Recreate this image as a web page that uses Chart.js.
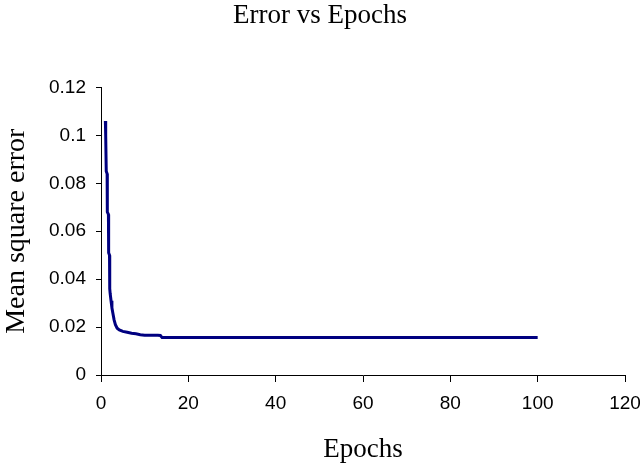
<!DOCTYPE html>
<html>
<head>
<meta charset="utf-8">
<script src="https://cdn.jsdelivr.net/npm/chart.js@4/dist/chart.umd.min.js"></script>
<style>
  html, body { margin: 0; padding: 0; background: #ffffff; }
  #wrap { width: 640px; height: 466px; }
</style>
</head>
<body>
<div id="wrap"><canvas id="c" width="640" height="466"></canvas></div>
<script>
const chartTitle = "Error vs Epochs";
const xTitle = "Epochs";
const yTitle = "Mean square error";
const epochs = [1.0, 1.05, 1.1, 1.2, 1.4, 1.45, 1.7, 1.75, 1.95, 2.0, 2.1, 2.3, 2.5, 2.7, 3.0, 3.3, 3.7, 4.2, 5, 6, 7, 8, 9, 10, 13, 13.6, 14, 20, 40, 60, 80, 100];
const mse    = [0.106, 0.101, 0.100, 0.085, 0.084, 0.068, 0.067, 0.051, 0.050, 0.036, 0.034, 0.031, 0.028, 0.026, 0.023, 0.021, 0.0195, 0.0188, 0.0182, 0.0178, 0.0174, 0.0172, 0.0168, 0.0166, 0.0166, 0.0165, 0.0156, 0.0156, 0.0156, 0.0156, 0.0156, 0.0156];
const xTicks = [0, 20, 40, 60, 80, 100, 120];
const yTicks = [0, 0.02, 0.04, 0.06, 0.08, 0.1, 0.12];

const points = epochs.map((x, i) => ({ x: x, y: mse[i] }));

new Chart(document.getElementById('c'), {
  type: 'line',
  data: {
    datasets: [{
      data: points,
      borderColor: '#000080',
      borderWidth: 3,
      pointRadius: 0,
      tension: 0,
      fill: false
    }]
  },
  options: {
    responsive: false,
    animation: false,
    devicePixelRatio: 1,
    layout: { padding: { left: 0, right: 0, top: 0, bottom: 0 } },
    plugins: {
      legend: { display: false },
      tooltip: { enabled: false },
      title: {
        display: true,
        text: chartTitle,
        color: '#000000',
        font: { family: 'Liberation Serif', size: 27, weight: 'normal' },
        padding: { top: 0, bottom: 55 }
      }
    },
    scales: {
      x: {
        type: 'linear',
        min: xTicks[0],
        max: xTicks[xTicks.length - 1],
        afterBuildTicks: (s) => { s.ticks = xTicks.map(v => ({ value: v })); },
        afterFit: (s) => { s.height = 91; s.paddingRight = 15; },
        grid: { display: true, drawOnChartArea: false, drawTicks: true, tickLength: 7, color: '#000000' },
        border: { display: true, color: '#000000', width: 1 },
        ticks: {
          color: '#000000',
          padding: 10,
          maxRotation: 0,
          font: { family: 'Liberation Sans', size: 19 },
          callback: (v) => String(v)
        },
        title: {
          display: true,
          text: xTitle,
          color: '#000000',
          font: { family: 'Liberation Serif', size: 27, weight: 'normal' },
          padding: { top: 10, bottom: 0 }
        }
      },
      y: {
        type: 'linear',
        min: yTicks[0],
        max: yTicks[yTicks.length - 1],
        afterBuildTicks: (s) => { s.ticks = yTicks.map(v => ({ value: v })); },
        afterFit: (s) => { s.width = 101; },
        grid: { display: true, drawOnChartArea: false, drawTicks: true, tickLength: 5, color: '#000000' },
        border: { display: true, color: '#000000', width: 1 },
        ticks: {
          color: '#000000',
          padding: 10,
          font: { family: 'Liberation Sans', size: 19 },
          callback: (v) => String(Math.round(v * 100) / 100)
        },
        title: {
          display: true,
          text: yTitle,
          color: '#000000',
          font: { family: 'Liberation Serif', size: 28, weight: 'normal' },
          padding: { top: 0, bottom: 0 }
        }
      }
    }
  }
});
</script>
</body>
</html>
